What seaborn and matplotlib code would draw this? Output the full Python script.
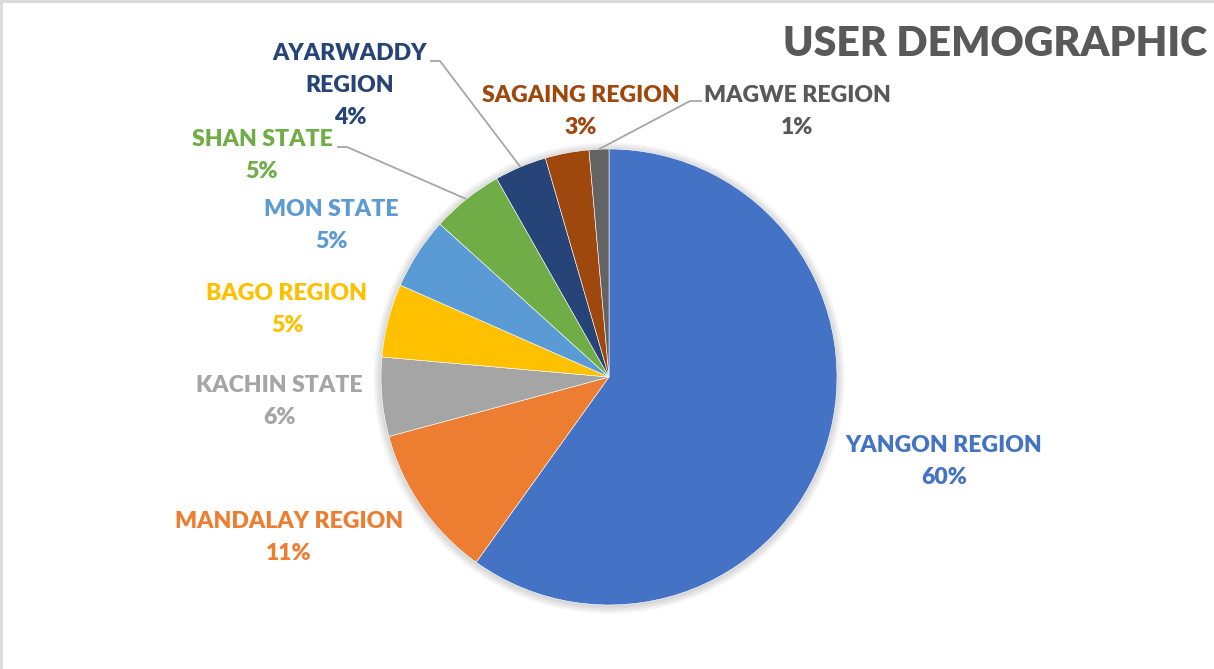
import numpy as np
import matplotlib
matplotlib.use("Agg")
import matplotlib.pyplot as plt
import seaborn as sns
from matplotlib.patches import Circle
from matplotlib.lines import Line2D

# ---------------- data ----------------
regions = ["YANGON REGION", "MANDALAY REGION", "KACHIN STATE", "BAGO REGION",
           "MON STATE", "SHAN STATE", "AYARWADDY REGION", "SAGAING REGION",
           "MAGWE REGION"]
shares = [59.9, 10.9, 5.6, 5.2, 5.1, 5.1, 3.7, 3.1, 1.4]
slice_colors = ["#4472C4", "#ED7D31", "#A5A5A5", "#FFC000", "#5B9BD5",
                "#70AD47", "#264478", "#9E480E", "#636363"]
title_text = "USER DEMOGRAPHIC"

# ---------------- layout ----------------
W, H = 1214, 669
CX, CY, R = 609, 377, 228          # pie centre / radius in pixels (top-down y)
label_xy = [(944, 446), (289, 522), (279, 386), (287, 294), (331, 209),
            (262, 140), (350, 53), (581, 95), (797, 95)]
label_breaks = {"AYARWADDY REGION": ["AYARWADDY", "REGION"]}
line_gap = 32
# leader elbows: (text-side end, elbow)
leaders = {5: [(337, 147), (347, 147)],
           6: [(430, 61), (440, 61)],
           8: [(702, 101), (690, 101)]}

sns.set_theme(style="white")
plt.rcParams['font.family'] = ['Lato', 'DejaVu Sans']
palette = sns.color_palette(slice_colors)

fig = plt.figure(figsize=(W / 100, H / 100), dpi=100)
ax = fig.add_axes([0, 0, 1, 1])

def fy(y):
    return H - y

# soft shadow
for k in range(1, 9):
    ax.add_patch(Circle((CX, fy(CY) - 1), R + k, color="#000000",
                        alpha=0.018, lw=0, zorder=0))
ax.add_patch(Circle((CX, fy(CY)), R, color="white", lw=0, zorder=0.5))

wedges, _ = ax.pie(shares, colors=palette, startangle=90, counterclock=False,
                   center=(CX, fy(CY)), radius=R,
                   wedgeprops=dict(linewidth=0.4, edgecolor="white"))
for w in wedges:
    w.set_zorder(1)

total = sum(shares)
for i, (name, val) in enumerate(zip(regions, shares)):
    x, y = label_xy[i]
    lines = label_breaks.get(name, [name]) + [f"{val / total * 100:.0f}%"]
    col = slice_colors[i]
    if name == "MAGWE REGION":
        col = "#595959"
    for j, t in enumerate(lines):
        ax.text(x, fy(y + j * line_gap), t, ha="center", va="center",
                fontsize=16.6, fontweight="heavy", color=col, zorder=3)

for i, pts in leaders.items():
    w = wedges[i]
    mid = np.deg2rad((w.theta1 + w.theta2) / 2)
    ex = CX + R * np.cos(mid)
    ey = fy(CY) + R * np.sin(mid)
    xs = [p[0] for p in pts] + [ex]
    ys = [fy(p[1]) for p in pts] + [ey]
    ax.plot(xs, ys, color="#A6A6A6", lw=1.3, zorder=2, solid_capstyle="butt")

ax.text(1207, fy(44), title_text, ha="right", va="center", fontsize=29.5,
        fontweight="heavy", color="#595959", zorder=3)

ax.set_xlim(0, W)
ax.set_ylim(0, H)
ax.set_aspect("equal")
ax.axis("off")

# light frame top/left
fig.add_artist(Line2D([0, 1], [1 - 1 / H, 1 - 1 / H], color="#D9D9D9", lw=2,
                      transform=fig.transFigure))
fig.add_artist(Line2D([1 / W, 1 / W], [0, 1], color="#D9D9D9", lw=2,
                      transform=fig.transFigure))

fig.savefig("out.png", dpi=100, facecolor="white")
